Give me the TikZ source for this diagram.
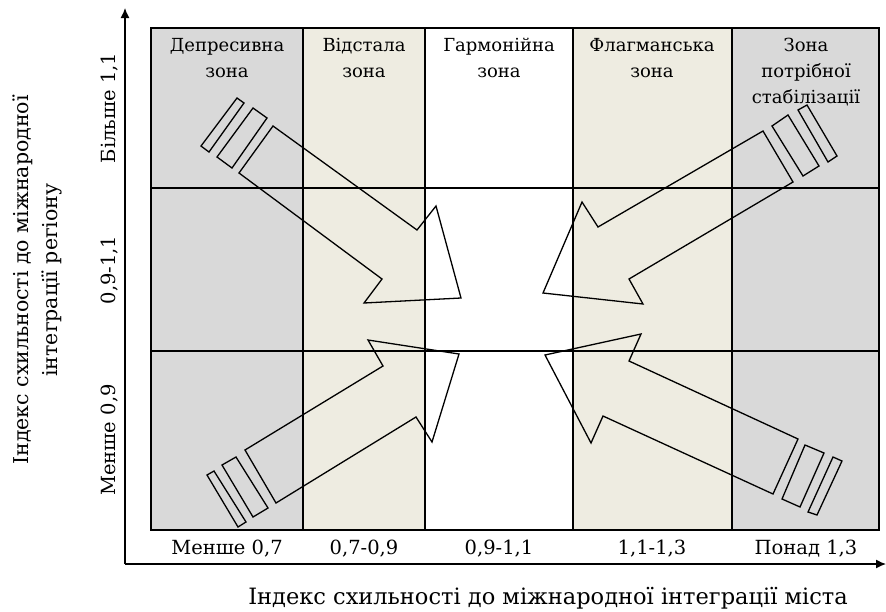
\documentclass[tikz,border=0pt]{standalone}
\usepackage{fontspec}
\setmainfont{DejaVu Serif}
\usetikzlibrary{arrows.meta}
\definecolor{zonegrey}{HTML}{D9D9D9}
\definecolor{zonebeige}{HTML}{EEECE1}
\begin{document}
\begin{tikzpicture}[x=1pt,y=-1pt,
  gridline/.style={line width=1.1pt},
  outline/.style={line width=1.3pt, line join=miter},
  axis/.style={line width=1.3pt, -{Latex[length=10pt,width=9pt]}},
  head/.style={font=\fontsize{18}{26}\selectfont, inner sep=0pt, align=center, anchor=north},
  lbl/.style={font=\fontsize{19.5}{24}\selectfont, inner sep=0pt},
  xtitle/.style={font=\fontsize{22.5}{28}\selectfont, inner sep=0pt},
  ytitle/.style={font=\fontsize{20.5}{29}\selectfont, inner sep=0pt, align=center},
]
\useasboundingbox (0,0) rectangle (886,611);

% zone backgrounds
\fill[zonegrey]  (151,28) rectangle (303,530);
\fill[zonebeige] (303,28) rectangle (425,530);
\fill[zonebeige] (573,28) rectangle (732,530);
\fill[zonegrey]  (732,28) rectangle (879,530);

% grid
\draw[gridline] (151,28) rectangle (879,530);
\foreach \x in {303,425,573,732} \draw[gridline] (\x,28) -- (\x,530);
\foreach \y in {188,351} \draw[gridline] (151,\y) -- (879,\y);

% axes
\coordinate (origin) at (125,564);
\coordinate (ytip) at (125,8);
\coordinate (xtip) at (886,564);
\draw[axis] (origin) -- (ytip);
\draw[axis] (origin) -- (xtip);

% zone headers
\node[head] (h1) at (227,38) {Депресивна\\зона};
\node[head] (h2) at (364,38) {Відстала\\зона};
\node[head] (h3) at (499,38) {Гармонійна\\зона};
\node[head] (h4) at (652,38) {Флагманська\\зона};
\node[head] (h5) at (806,38) {Зона\\потрібної\\стабілізації};

% horizontal scale
\node[lbl] (x1) at (227,549) {Менше 0,7};
\node[lbl] (x2) at (364,549) {0,7-0,9};
\node[lbl] (x3) at (499,549) {0,9-1,1};
\node[lbl] (x4) at (652,549) {1,1-1,3};
\node[lbl] (x5) at (806,549) {Понад 1,3};

% vertical scale
\node[lbl, rotate=90] (y1) at (110,108) {Більше 1,1};
\node[lbl, rotate=90] (y2) at (110,270) {0,9-1,1};
\node[lbl, rotate=90] (y3) at (110,440) {Менше 0,9};

% axis titles
\node[xtitle] (xt) at (548,598) {Індекс схильності до міжнародної інтеграції міста};
\node[ytitle, rotate=90] (yt) at (37,280) {Індекс схильності до міжнародної\\інтеграції регіону};

% arrow from the top-left corner
\draw[outline] (273,126) -- (417,230) -- (436,206) -- (461,298) -- (364,303) -- (382,279) -- (239,173) -- cycle;
\draw[outline] (253,108) -- (267,118) -- (232,168) -- (217,157) -- cycle;
\draw[outline] (237,98) -- (244,103) -- (209,152) -- (201,146) -- cycle;

% arrow from the top-right corner
\draw[outline] (763,131) -- (598,227) -- (582,202) -- (543,293) -- (643,304) -- (629,279) -- (793,182) -- cycle;
\draw[outline] (772,126) -- (788,115) -- (819,166) -- (803,176) -- cycle;
\draw[outline] (798,110) -- (807,105) -- (837,156) -- (828,162) -- cycle;

% arrow from the bottom-left corner
\draw[outline] (245,450) -- (383,366) -- (368,340) -- (459,354) -- (432,442) -- (416,417) -- (276,503) -- cycle;
\draw[outline] (222,465) -- (236,457) -- (268,508) -- (253,517) -- cycle;
\draw[outline] (207,475) -- (214,471) -- (246,522) -- (238,527) -- cycle;

% arrow from the bottom-right corner
\draw[outline] (798,439) -- (629,361) -- (641,334) -- (545,355) -- (591,443) -- (603,416) -- (773,494) -- cycle;
\draw[outline] (805,445) -- (824,453) -- (800,507) -- (782,499) -- cycle;
\draw[outline] (833,457) -- (842,461) -- (817,515) -- (808,512) -- cycle;
\end{tikzpicture}
\end{document}
